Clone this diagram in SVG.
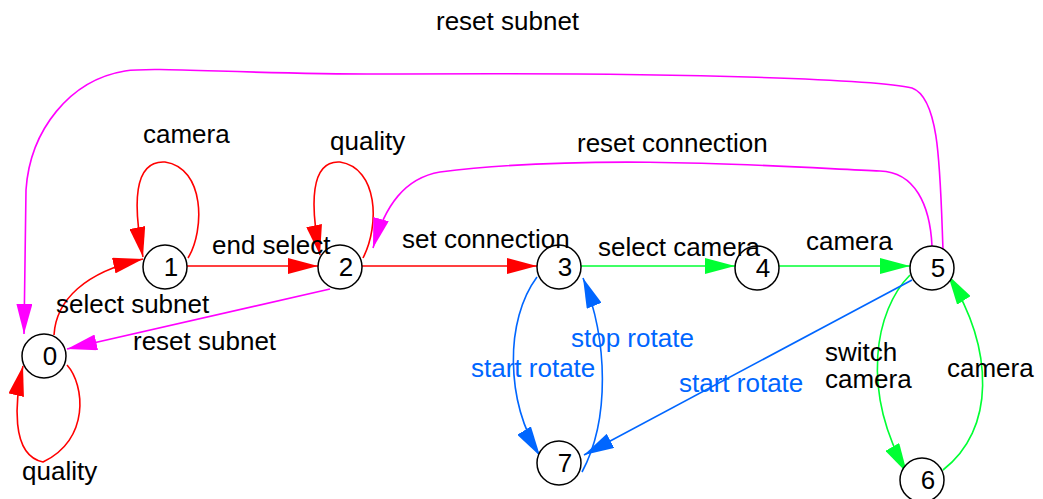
<svg xmlns="http://www.w3.org/2000/svg" width="1043" height="499" viewBox="0 0 1043 499">
<defs>
<style>
.n{fill:#fff;stroke:#000;stroke-width:1.5}
.t{font-family:"Liberation Sans",Arial,sans-serif;font-size:26px;fill:#000}
.d{font-family:"Liberation Sans",Arial,sans-serif;font-size:26px;fill:#000;text-anchor:middle}
.b{fill:#0066ff}
.e{fill:none;stroke-width:1.6}
.r{stroke:#ff0000}.m{stroke:#ff00ff}.g{stroke:#00ff33}.bl{stroke:#0066ff}
</style>
<marker id="ar" markerUnits="userSpaceOnUse" markerWidth="30" markerHeight="16" refX="30" refY="8" orient="auto"><path d="M0,0 L30,8 L0,16 Z" fill="#ff0000"/></marker>
<marker id="am" markerUnits="userSpaceOnUse" markerWidth="30" markerHeight="16" refX="30" refY="8" orient="auto"><path d="M0,0 L30,8 L0,16 Z" fill="#ff00ff"/></marker>
<marker id="ag" markerUnits="userSpaceOnUse" markerWidth="30" markerHeight="16" refX="30" refY="8" orient="auto"><path d="M0,0 L30,8 L0,16 Z" fill="#00ff33"/></marker>
<marker id="ab" markerUnits="userSpaceOnUse" markerWidth="30" markerHeight="16" refX="30" refY="8" orient="auto"><path d="M0,0 L30,8 L0,16 Z" fill="#0066ff"/></marker>
</defs>
<rect width="1043" height="499" fill="#fff"/>
<g id="connectors">
<path class="e r" d="M54,335 C56,300 85,272 143,259" marker-end="url(#ar)"/>
<path class="e r" d="M188,258 C205,230 205,168 165,162 C133,160 133,205 143,257" marker-end="url(#ar)"/>
<path class="e r" d="M187,266 L318,266" marker-end="url(#ar)"/>
<path class="e r" d="M363,258 C380,225 378,168 340,162 C310,160 310,205 320,255" marker-end="url(#ar)"/>
<path class="e r" d="M362,266 L537,266" marker-end="url(#ar)"/>
<path class="e r" d="M67,365 C85,385 90,440 43,462 C10,455 15,400 23,366" marker-end="url(#ar)"/>
<path class="e g" d="M581,266 L735,266" marker-end="url(#ag)"/>
<path class="e g" d="M779,266 L910,266" marker-end="url(#ag)"/>
<path class="e g" d="M910,275 C875,310 860,390 907,473" marker-end="url(#ag)"/>
<path class="e g" d="M943,470 C995,430 995,350 948,275" marker-end="url(#ag)"/>
<path class="e m" d="M932,246 C930,205 915,172 880,171 C800,168 600,152 440,172 C405,178 385,205 373,248" marker-end="url(#am)"/>
<path class="e m" d="M943,250 C940,170 940,98 912,88 C880,80 700,72 400,74 C250,75 155,66 125,71 C70,80 30,130 26,190 L24,334" marker-end="url(#am)"/>
<path class="e m" d="M330,289 L67,349" marker-end="url(#am)"/>
<path class="e bl" d="M537,277 C505,320 505,400 540,456" marker-end="url(#ab)"/>
<path class="e bl" d="M582,472 C610,420 608,340 583,278" marker-end="url(#ab)"/>
<path class="e bl" d="M912,280 L584,455" marker-end="url(#ab)"/>
</g>
<g id="node0"><circle class="n" cx="44" cy="356" r="22"/><text class="d" x="50" y="365">0</text></g>
<g id="node1"><circle class="n" cx="165" cy="267" r="22"/><text class="d" x="171" y="276">1</text></g>
<g id="node2"><circle class="n" cx="340" cy="267" r="22"/><text class="d" x="346" y="276">2</text></g>
<g id="node3"><circle class="n" cx="559" cy="267" r="22"/><text class="d" x="565" y="276">3</text></g>
<g id="node4"><circle class="n" cx="757" cy="268" r="22"/><text class="d" x="763" y="277">4</text></g>
<g id="node5"><circle class="n" cx="932" cy="268" r="22"/><text class="d" x="938" y="277">5</text></g>
<g id="node6"><circle class="n" cx="922" cy="480" r="22"/><text class="d" x="928" y="489">6</text></g>
<g id="node7"><circle class="n" cx="559" cy="463" r="22"/><text class="d" x="565" y="472">7</text></g>
<g id="labels">
<text class="t" x="436" y="30">reset subnet</text>
<text class="t" x="143" y="143">camera</text>
<text class="t" x="330" y="150">quality</text>
<text class="t" x="577" y="152">reset connection</text>
<text class="t" x="212" y="254">end select</text>
<text class="t" x="402" y="248">set connection</text>
<text class="t" x="598" y="256">select camera</text>
<text class="t" x="806" y="250">camera</text>
<text class="t" x="56" y="313">select subnet</text>
<text class="t" x="133" y="350">reset subnet</text>
<text class="t" x="22" y="480">quality</text>
<text class="t b" x="471" y="377">start rotate</text>
<text class="t b" x="571" y="347">stop rotate</text>
<text class="t b" x="679" y="392">start rotate</text>
<text class="t" x="825" y="361">switch</text>
<text class="t" x="825" y="388">camera</text>
<text class="t" x="947" y="377">camera</text>
</g>
</svg>
